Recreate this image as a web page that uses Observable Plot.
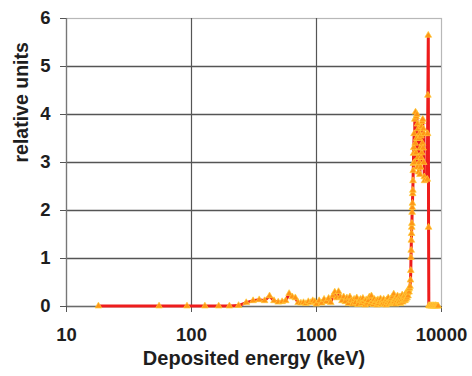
<!DOCTYPE html>
<html>
<head>
<meta charset="utf-8">
<script src="https://cdn.jsdelivr.net/npm/d3@7"></script>
<script src="https://cdn.jsdelivr.net/npm/@observablehq/plot@0.6"></script>
<style>
  html, body { margin: 0; padding: 0; background: #fff; }
</style>
</head>
<body>
<div id="chart"></div>
<script>
// Deposited energy (keV), bin centres
const energy = [
  18, 55, 92, 128, 165, 201, 238,
  274, 311, 348, 384, 421, 457, 494, 531, 567, 604, 640, 677, 714, 750, 787, 823, 860, 897, 933, 970,
  1000, 1050, 1100, 1150, 1200,
  1250, 1300, 1350, 1400, 1450, 1500, 1550, 1600,
  1650, 1700, 1750, 1800, 1850, 1900, 1950, 2000,
  2050, 2100, 2150, 2200, 2250, 2300, 2350, 2400, 2450, 2500,
  2550, 2600, 2650, 2700, 2750, 2800, 2850, 2900, 2950, 3000,
  3050, 3100, 3150, 3200, 3250, 3300, 3350, 3400, 3450, 3500,
  3550, 3600, 3650, 3700, 3750, 3800, 3850, 3900, 3950, 4000,
  4050, 4100, 4150, 4200, 4250, 4300, 4350, 4400, 4450, 4500,
  4550, 4600, 4650, 4700, 4750, 4800, 4850, 4900, 4950, 5000,
  5050, 5100, 5150, 5200, 5250, 5300, 5350, 5400, 5450, 5500,
  5550, 5600, 5650,
  5680, 5700, 5720, 5740, 5760, 5780, 5800, 5820, 5840, 5860, 5880, 5900, 5920, 5940, 5960, 5980, 6000,
  6040, 6080, 6120, 6160, 6200, 6240, 6280, 6320, 6360, 6400, 6440, 6480, 6520, 6560, 6600, 6640,
  6680, 6720, 6760, 6800, 6840, 6880, 6920, 6960, 7000, 7040, 7080, 7120, 7160, 7200, 7240, 7280, 7320,
  7700, 7740, 7780, 7840, 7880, 7920,
  8000, 8100, 8200, 8300, 8400, 8500, 8600, 8700, 8800, 8900, 9000, 9100, 9200, 9300, 9400
];

// relative units
const relUnits = [
  0.01, 0.01, 0.01, 0.01, 0.01, 0.01, 0.02,
  0.08, 0.12, 0.14, 0.12, 0.22, 0.12, 0.09, 0.10, 0.12, 0.27, 0.20, 0.18, 0.08, 0.07, 0.08, 0.06, 0.10, 0.08, 0.12, 0.10,
  0.05, 0.12, 0.07, 0.15, 0.10,
  0.17, 0.08, 0.22, 0.30, 0.18, 0.31, 0.20, 0.12,
  0.20, 0.10, 0.18, 0.06, 0.20, 0.12, 0.05, 0.15,
  0.08, 0.18, 0.04, 0.12, 0.15, 0.06, 0.17, 0.10, 0.03, 0.14,
  0.07, 0.12, 0.20, 0.05, 0.22, 0.10, 0.04, 0.15, 0.08, 0.12,
  0.03, 0.14, 0.06, 0.10, 0.16, 0.04, 0.12, 0.07, 0.15, 0.05,
  0.11, 0.03, 0.14, 0.08, 0.18, 0.05, 0.12, 0.09, 0.16, 0.06,
  0.20, 0.08, 0.26, 0.10, 0.15, 0.05, 0.18, 0.12, 0.22, 0.08,
  0.16, 0.10, 0.20, 0.06, 0.18, 0.12, 0.24, 0.09, 0.20, 0.14,
  0.22, 0.12, 0.26, 0.15, 0.30, 0.18, 0.28, 0.22, 0.35, 0.30,
  0.38, 0.42, 0.55,
  0.75, 1.02, 1.17, 1.38, 1.52, 1.65, 1.73, 1.96, 2.06, 2.15, 2.35, 2.42, 2.62, 2.83, 2.98, 3.19, 3.31,
  3.60, 3.00, 3.90, 3.40, 4.05, 3.20, 3.95, 3.50, 4.00, 2.90, 3.80, 3.10, 3.70, 2.80, 3.50, 3.00,
  3.60, 2.75, 3.30, 2.90, 3.55, 3.10, 3.75, 3.20, 3.85, 3.40, 3.90, 3.30, 3.70, 3.00, 3.60, 2.70, 2.62,
  2.65, 3.60, 4.40, 5.65, 1.65, 0.02,
  0.01, 0.02, 0.01, 0.01, 0.02, 0.01, 0.01, 0.02, 0.01, 0.01, 0.02, 0.01, 0.01, 0.01, 0.01
];

const xTicks = [10, 100, 1000, 10000];
const yTicks = [0, 1, 2, 3, 4, 5, 6];
const xLabel = "Deposited energy (keV)";
const yLabel = "relative units";

const n = Math.min(energy.length, relUnits.length);
const data = d3.range(n).map(i => ({e: energy[i], v: relUnits[i]}));

const font = "'Liberation Sans', Arial, sans-serif";
const textColor = "#1e1e1e";

const chart = Plot.plot({
  width: 472,
  height: 376,
  marginLeft: 66,
  marginRight: 31,
  marginTop: 18,
  marginBottom: 70,
  style: {fontFamily: font, fontSize: "18px", fontWeight: "bold", color: textColor, background: "#fff"},
  x: {type: "log", domain: [10, 10000]},
  y: {domain: [0, 6]},
  marks: [
    Plot.frame({stroke: "#b8b8b8", strokeWidth: 1.2}),
    Plot.gridY(yTicks.filter(d => d > 0 && d < 6), {stroke: "#555", strokeOpacity: 1, strokeWidth: 1.3}),
    Plot.gridX(xTicks.filter(d => d > 10 && d < 10000), {stroke: "#555", strokeOpacity: 1, strokeWidth: 1.2}),
    Plot.ruleX([10], {stroke: "#777", strokeWidth: 1.3}),
    Plot.ruleY([0], {stroke: "#6a6a6a", strokeWidth: 1.5}),
    Plot.axisY({ticks: yTicks, tickSize: 6, tickPadding: 10, tickFormat: d => String(d), label: null, stroke: "#555", fill: textColor, fontSize: 18.5, fontWeight: "bold"}),
    Plot.axisX({ticks: xTicks, tickSize: 6, tickPadding: 15, tickFormat: d => String(d), label: null, stroke: "#555", fill: textColor, fontSize: 18.5, fontWeight: "bold"}),
    Plot.line(data, {x: "e", y: "v", stroke: "#ee1c1c", strokeWidth: 3, curve: "linear"}),
    Plot.dot(data, {x: "e", y: "v", symbol: "triangle", r: 2.5, fill: "#ff9416", stroke: "#ffcc3a", strokeWidth: 0.7}),
    Plot.text([xLabel], {frameAnchor: "bottom", dy: 58, fontSize: 20, fontWeight: "bold", fill: textColor}),
    Plot.text([yLabel], {frameAnchor: "left", dx: -45, rotate: -90, fontSize: 19.5, fontWeight: "bold", fill: textColor})
  ]
});

document.getElementById("chart").appendChild(chart);
</script>
</body>
</html>
